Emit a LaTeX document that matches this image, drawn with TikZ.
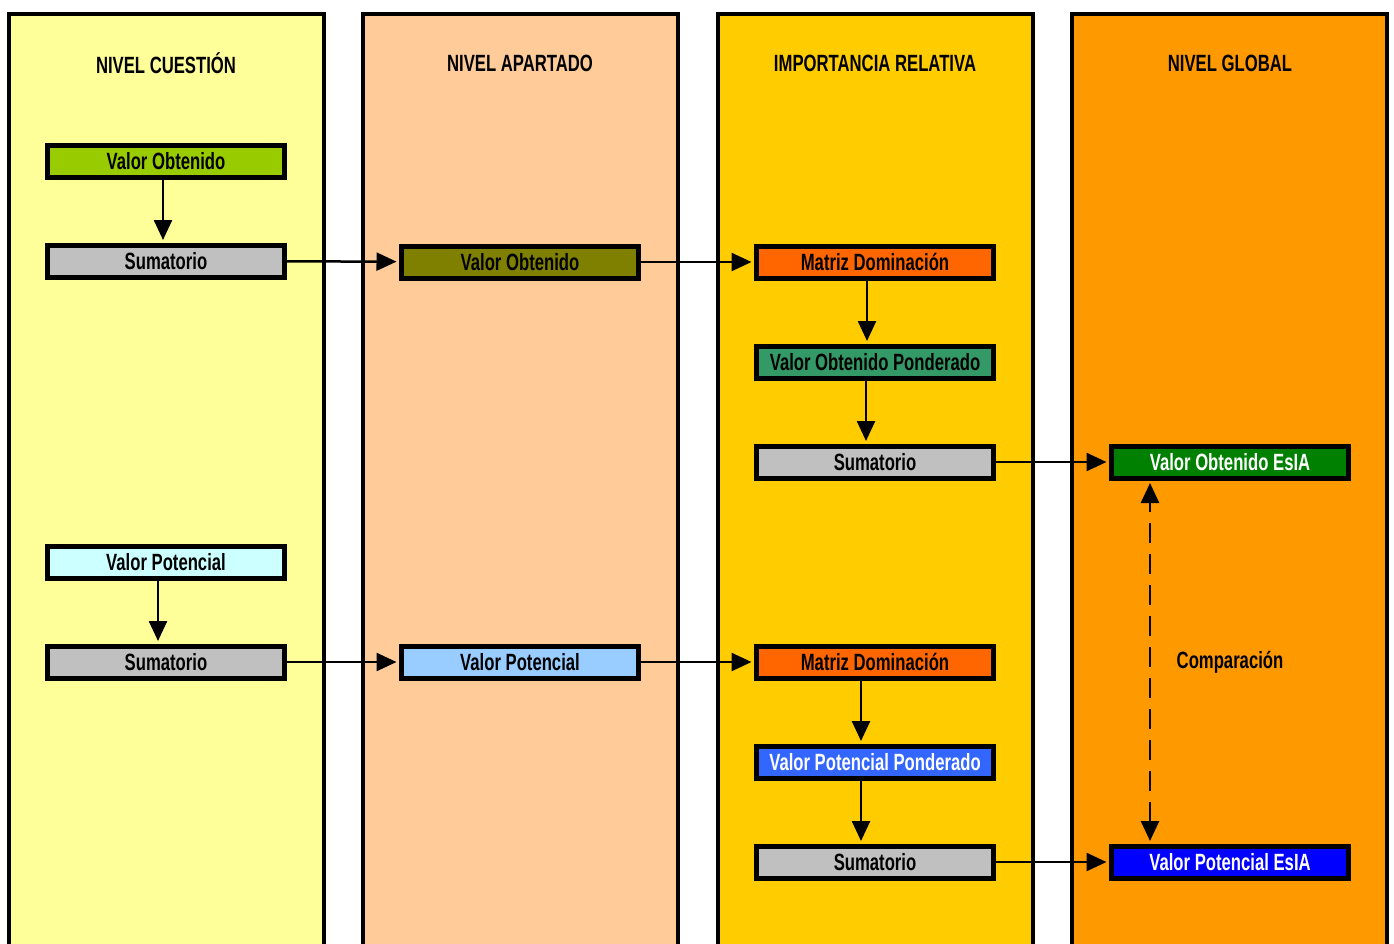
\documentclass[tikz,border=0pt]{standalone}
\usepackage{fontspec}
\setmainfont{Liberation Sans}[FakeStretch=0.71]
\usetikzlibrary{arrows.meta,positioning}

\definecolor{bgcuestion}{HTML}{FFFF99}
\definecolor{bgapartado}{HTML}{FFCC99}
\definecolor{bgrelativa}{HTML}{FFCC00}
\definecolor{bgglobal}{HTML}{FF9900}
\definecolor{cobtenido}{HTML}{99CC00}
\definecolor{csuma}{HTML}{C0C0C0}
\definecolor{colivo}{HTML}{808000}
\definecolor{cpotencial}{HTML}{CCFFFF}
\definecolor{cceleste}{HTML}{99CCFF}
\definecolor{cmatriz}{HTML}{FF6600}
\definecolor{cobtpond}{HTML}{339966}
\definecolor{cpotpond}{HTML}{3366FF}
\definecolor{cobtesia}{HTML}{008000}
\definecolor{cpotesia}{HTML}{0000FF}

\begin{document}
\begin{tikzpicture}[x=1pt,y=-1pt,>={Triangle[length=20pt,width=18pt]},
                    shorten >=2.5pt,node distance=63pt,
                    txt/.style={font=\fontsize{23.5}{25}\selectfont\bfseries},
                    column/.style={draw,line width=4pt},
                    box node/.style={draw,line width=5pt,minimum width=237pt,
                                     minimum height=32pt,inner sep=0pt,txt},
                    link/.style={->,line width=2.5pt}]
  \useasboundingbox (0,0) rectangle (1394,943);
  \clip (0,0) rectangle (1394,943);
  % columnas
  \draw[column,fill=bgcuestion] (8.5,13.5) rectangle (323.5,980);
  \draw[column,fill=bgapartado] (363,13.5) rectangle (678,980);
  \draw[column,fill=bgrelativa] (717.5,13.5) rectangle (1032.5,980);
  \draw[column,fill=bgglobal] (1072,13.5) rectangle (1387,980);
  \node[txt] (h1) at (166,63) {NIVEL CUESTIÓN};
  \node[txt] (h2) at (520,63) {NIVEL APARTADO};
  \node[txt] (h3) at (875,63) {IMPORTANCIA RELATIVA};
  \node[txt] (h4) at (1230,63) {NIVEL GLOBAL};
  % nivel cuestion
  \node[box node,fill=cobtenido] (c1) at (166,161) {Valor Obtenido};
  \node[box node,fill=csuma] (c2) [below=of c1] {Sumatorio};
  \node[box node,fill=cpotencial] (c3) at (166,562) {Valor Potencial};
  \node[box node,fill=csuma] (c4) [below=of c3] {Sumatorio};
  % nivel apartado
  \node[box node,fill=colivo] (a1) at (520,262) {Valor Obtenido};
  \node[box node,fill=cceleste] (a2) at (520,662) {Valor Potencial};
  % importancia relativa
  \node[box node,fill=cmatriz] (r1) at (875,262) {Matriz Dominación};
  \node[box node,fill=cobtpond] (r2) [below=of r1] {Valor Obtenido Ponderado};
  \node[box node,fill=csuma] (r3) [below=of r2] {Sumatorio};
  \node[box node,fill=cmatriz] (r4) at (875,662) {Matriz Dominación};
  \node[box node,fill=cpotpond,text=white] (r5) [below=of r4] {Valor Potencial Ponderado};
  \node[box node,fill=csuma] (r6) [below=of r5] {Sumatorio};
  % nivel global
  \node[box node,fill=cobtesia,text=white] (g1) at (1230,462) {Valor Obtenido EsIA};
  \node[box node,fill=cpotesia,text=white] (g2) at (1230,862) {Valor Potencial EsIA};
  \node[txt] (cmp) at (1230,662) {Comparación};
  \path[link]
    ([xshift=-3pt]c1.south) edge ([xshift=-3pt]c2.north)
    ([xshift=-8pt]c3.south) edge ([xshift=-8pt]c3.south |- c4.north)
    ([xshift=-8pt]r1.south) edge ([xshift=-8pt]r2.north)
    ([xshift=-9pt]r2.south) edge ([xshift=-9pt]r3.north)
    ([xshift=-14pt]r4.south) edge ([xshift=-14pt]r5.north)
    ([xshift=-14pt]r5.south) edge ([xshift=-14pt]r6.north)
    (c2) edge (a1)
    (c4) edge (a2)
    (a1) edge (r1)
    (a2) edge (r4)
    (r3) edge (g1)
    (r6) edge (g2);
  \draw[link,<->,shorten <=2.5pt,dash pattern=on 20pt off 11pt]
    ([xshift=-80pt]g2.north) -- ([xshift=-80pt]g1.south);
\end{tikzpicture}
\end{document}
